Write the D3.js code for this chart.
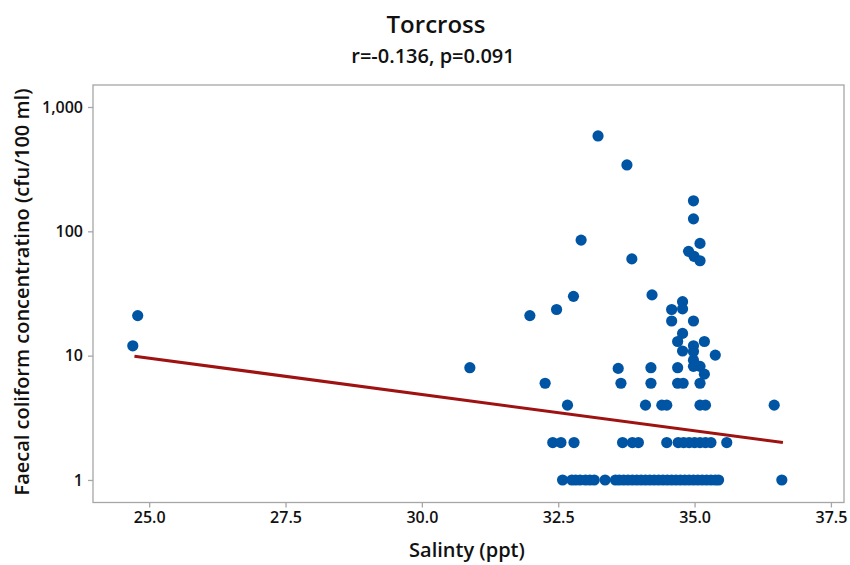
<!DOCTYPE html>
<html>
<head>
<meta charset="utf-8">
<script src="https://cdn.jsdelivr.net/npm/d3@7/dist/d3.min.js"></script>
<style>
  html, body { margin: 0; padding: 0; background: #fff; }
  svg { display: block; }
  text { font-family: "Open Sans", "Noto Sans", sans-serif; font-weight: 600; fill: #111; }
</style>
</head>
<body>
<svg id="chart" width="850" height="565"></svg>
<script>
// ---- data ----
const salinity = [
  24.70, 24.79, 30.88, 31.98, 32.26, 32.47, 32.78, 32.92, 33.23, 33.76, 33.85,
  34.22, 34.98, 34.98, 35.10, 34.89, 34.99, 35.10, 34.78, 34.78, 34.58, 34.58, 34.98,
  34.78, 34.69, 35.18, 34.98, 34.78, 34.98, 35.38, 34.98, 34.98, 35.10, 33.60, 34.20, 34.69,
  35.18, 33.65, 34.20, 34.69, 34.79, 35.10,
  32.67, 34.10, 34.40, 34.49, 35.10, 35.20, 36.46,
  32.40, 32.55, 32.79, 33.68, 33.86, 33.97, 34.49, 34.70, 34.80, 34.90, 35.00, 35.10, 35.20, 35.30, 35.59,
  32.58, 32.75, 32.82, 32.90, 33.00, 33.08, 33.16, 33.36,
  33.55, 33.62, 33.70, 33.78, 33.86, 33.94, 34.02, 34.10, 34.18, 34.26, 34.34, 34.42, 34.50,
  34.58, 34.66, 34.74, 34.82, 34.90, 34.98, 35.06, 35.14, 35.22, 35.30, 35.38, 35.44, 36.60
];
const faecal = [
  12, 21, 8, 21, 6, 23.5, 30, 85, 585, 342, 60,
  30.8, 176, 126, 80, 69, 63, 58, 27.2, 23.8, 23.5, 19, 19,
  15.1, 13, 13, 12, 10.9, 10.8, 10.1, 9.2, 8.2, 8.2, 7.9, 8, 8,
  7.1, 6, 6, 6, 6, 6,
  4, 4, 4, 4, 4, 4, 4,
  2, 2, 2, 2, 2, 2, 2, 2, 2, 2, 2, 2, 2, 2, 2,
  1, 1, 1, 1, 1, 1, 1, 1,
  1, 1, 1, 1, 1, 1, 1, 1, 1, 1, 1, 1, 1,
  1, 1, 1, 1, 1, 1, 1, 1, 1, 1, 1, 1, 1
];
const fitSalinity = [24.73, 36.62];
const fitFaecal = [9.9, 2.0];
const xTicks = [25.0, 27.5, 30.0, 32.5, 35.0, 37.5];
const yTicks = [1, 10, 100, 1000];
const titleText = "Torcross";
const subtitleText = "r=-0.136, p=0.091";
const xLabel = "Salinty (ppt)";
const yLabel = "Faecal coliform concentratino (cfu/100 ml)";

// ---- layout ----
const svg = d3.select("#chart");
const L = 93, R = 844, T = 85, B = 502.5;

const x = d3.scaleLinear().domain([23.97, 37.74]).range([L, R]);
const y = d3.scaleLog().domain([0.659, 1503]).range([B, T]);

const frameColor = "#a6a6a6";

// frame
svg.append("rect")
  .attr("x", L).attr("y", T).attr("width", R - L).attr("height", B - T)
  .attr("fill", "none").attr("stroke", frameColor).attr("stroke-width", 1.3);

// x axis
const xAxis = d3.axisBottom(x).tickValues(xTicks).tickFormat(d3.format(".1f")).tickSize(5).tickPadding(4);
const gx = svg.append("g").attr("transform", `translate(0,${B})`).call(xAxis);
gx.select(".domain").remove();
gx.selectAll(".tick line").attr("stroke", frameColor).attr("stroke-width", 1.3);
gx.selectAll(".tick text").style("font-size", "16px").attr("fill", "#111");

// y axis
const yAxis = d3.axisLeft(y).tickValues(yTicks).tickFormat(d3.format(",")).tickSize(5).tickPadding(5);
const gy = svg.append("g").attr("transform", `translate(${L},0)`).call(yAxis);
gy.select(".domain").remove();
gy.selectAll(".tick line").attr("stroke", frameColor).attr("stroke-width", 1.3);
gy.selectAll(".tick text").style("font-size", "16px").attr("fill", "#111");

// points
const pts = salinity.map((s, i) => ({ s, f: faecal[i] }));
svg.append("g").selectAll("circle").data(pts).join("circle")
  .attr("cx", d => x(d.s)).attr("cy", d => y(d.f)).attr("r", 5.6)
  .attr("fill", "#0054a4");

// fit line
const fit = fitSalinity.map((s, i) => [s, fitFaecal[i]]);
svg.append("path")
  .attr("d", d3.line().x(d => x(d[0])).y(d => y(d[1]))(fit))
  .attr("fill", "none").attr("stroke", "#9e1212").attr("stroke-width", 3);

// titles
svg.append("text").attr("x", 436).attr("y", 33).attr("text-anchor", "middle")
  .style("font-size", "24px").text(titleText);
svg.append("text").attr("x", 433).attr("y", 63).attr("text-anchor", "middle")
  .style("font-size", "20px").text(subtitleText);

svg.append("text").attr("x", 467).attr("y", 557).attr("text-anchor", "middle")
  .style("font-size", "20px").text(xLabel);

svg.append("text").attr("transform", "translate(29,292) rotate(-90)").attr("text-anchor", "middle")
  .style("font-size", "20px").text(yLabel);
</script>
</body>
</html>
